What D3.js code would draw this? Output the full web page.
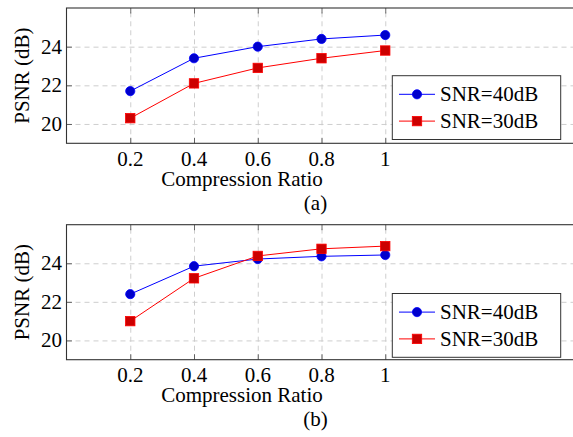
<!DOCTYPE html>
<html>
<head>
<meta charset="utf-8">
<script src="https://cdn.jsdelivr.net/npm/d3@7"></script>
</head>
<body style="margin:0">
<svg id="chart" width="573" height="437"></svg>
<script>
// values
var ratios = [0.2, 0.4, 0.6, 0.8, 1];
var psnrA40 = [21.7, 23.4, 24.0, 24.4, 24.6];
var psnrA30 = [20.3, 22.1, 22.9, 23.4, 23.8];
var psnrB40 = [22.4, 23.85, 24.22, 24.36, 24.43];
var psnrB30 = [21.0, 23.22, 24.38, 24.75, 24.89];
var yTicks = [20, 22, 24];
var seriesNames = ["SNR=40dB", "SNR=30dB"];
var captions = ["(a)", "(b)"];
var xLabel = "Compression Ratio";
var yLabel = "PSNR (dB)";

var svg = d3.select("#chart");

var xScale = d3.scaleLinear()
    .domain([0, 1.6])
    .range([66.5, 66.5 + 1.6 * 318.75]);

var styles = [
    { line: "#0000ff", fill: "#0000cc", mark: "circle" },
    { line: "#ff0000", fill: "#cc0000", mark: "square" }
];

function drawMark(g, type, cx, cy, st) {
    if (type === "circle") {
        g.append("circle")
            .attr("cx", cx).attr("cy", cy).attr("r", 4.6)
            .attr("fill", st.fill).attr("stroke", st.line).attr("stroke-width", 0.8);
    } else {
        g.append("rect")
            .attr("x", cx - 4.7).attr("y", cy - 4.7)
            .attr("width", 9.4).attr("height", 9.4)
            .attr("fill", st.fill).attr("stroke", st.line).attr("stroke-width", 0.8);
    }
}

// every text gets its own font attributes
function addText(g, x, y, str, anchor) {
    return g.append("text")
        .attr("x", x)
        .attr("y", y)
        .attr("font-family", "serif")
        .attr("font-size", 21)
        .attr("text-anchor", anchor || "start")
        .text(str);
}

function drawPanel(top, bottom, series, caption, legendTop) {
    var g = svg.append("g");
    var left = xScale.range()[0];
    var right = xScale.range()[1];
    var h = bottom - top;
    var w = right - left;

    var yScale = d3.scaleLinear()
        .domain([19, 26])
        .range([bottom, top]);

    // grid
    var xGrid = g.append("g")
        .attr("transform", `translate(0, ${bottom})`)
        .call(d3.axisBottom(xScale).tickValues(ratios).tickSize(-h).tickFormat(""));
    var yGrid = g.append("g")
        .attr("transform", `translate(${left}, 0)`)
        .call(d3.axisLeft(yScale).tickValues(yTicks).tickSize(-w).tickFormat(""));
    [xGrid, yGrid].forEach(function (a) {
        a.select(".domain").remove();
        a.selectAll("text").remove();
        a.selectAll("line")
            .attr("stroke", "#c8c8c8")
            .attr("stroke-width", 0.9)
            .attr("stroke-dasharray", "5,4");
    });

    // inner tick marks on all sides
    var tickAxes = [
        g.append("g").attr("transform", `translate(0, ${bottom})`)
            .call(d3.axisBottom(xScale).tickValues(ratios).tickSize(-5.5).tickFormat("")),
        g.append("g").attr("transform", `translate(0, ${top})`)
            .call(d3.axisTop(xScale).tickValues(ratios).tickSize(-5.5).tickFormat("")),
        g.append("g").attr("transform", `translate(${left}, 0)`)
            .call(d3.axisLeft(yScale).tickValues(yTicks).tickSize(-5.5).tickFormat(""))
    ];
    tickAxes.forEach(function (a) {
        a.select(".domain").remove();
        a.selectAll("text").remove();
        a.selectAll("line").attr("stroke", "#444").attr("stroke-width", 0.8);
    });

    // tick labels placed from the scales
    ratios.forEach(function (r) {
        addText(g, xScale(r), bottom + 22.7, d3.format("")(r), "middle");
    });
    yTicks.forEach(function (v) {
        addText(g, left - 4.5, yScale(v) + 7, d3.format("d")(v), "end");
    });

    // lines and marks
    series.forEach(function (vals, i) {
        var st = styles[i];
        var line = d3.line()
            .x(function (d, j) { return xScale(ratios[j]); })
            .y(function (d) { return yScale(d); });
        g.append("path")
            .datum(vals)
            .attr("d", line)
            .attr("fill", "none")
            .attr("stroke", st.line)
            .attr("stroke-width", 1);
        var marks = g.append("g");
        vals.forEach(function (v, j) {
            drawMark(marks, st.mark, xScale(ratios[j]), yScale(v), st);
        });
    });

    // frame
    g.append("rect")
        .attr("x", left).attr("y", top)
        .attr("width", w).attr("height", h)
        .attr("fill", "none")
        .attr("stroke", "#333")
        .attr("stroke-width", 1.1);

    // legend
    var lg = g.append("g");
    lg.append("rect")
        .attr("x", 392.3).attr("y", legendTop)
        .attr("width", 168.4).attr("height", 63.8)
        .attr("fill", "#fff")
        .attr("stroke", "#333")
        .attr("stroke-width", 1);
    seriesNames.forEach(function (name, i) {
        var cy = legendTop + 18.6 + i * 26.8;
        var st = styles[i];
        lg.append("line")
            .attr("x1", 399).attr("x2", 435)
            .attr("y1", cy).attr("y2", cy)
            .attr("stroke", st.line).attr("stroke-width", 1);
        drawMark(lg, st.mark, 417, cy, st);
        addText(lg, 440, cy + 7, name);
    });

    // axis titles and caption
    addText(g, 242, bottom + 42.7, xLabel, "middle");

    addText(g, 0, 0, yLabel, "middle")
        .attr("transform", `translate(28.5, ${(top + bottom) / 2}) rotate(-90)`);

    addText(g, 315.5, bottom + 66.7, caption, "middle");
}

drawPanel(8, 143.3, [psnrA40, psnrA30], captions[0], 75.7);
drawPanel(224.7, 359.7, [psnrB40, psnrB30], captions[1], 293.5);
</script>
</body>
</html>
